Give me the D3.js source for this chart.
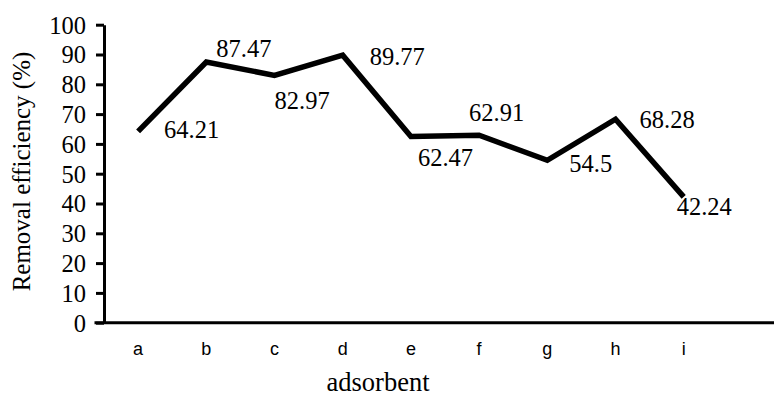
<!DOCTYPE html>
<html><head><meta charset="utf-8">
<script src="https://cdn.jsdelivr.net/npm/d3@7"></script>
<style>
body{margin:0;background:#fff}svg{display:block}
.serif{font-family:"Liberation Serif","Times New Roman",Times,serif;}
.sans{font-family:"Liberation Sans",Arial,Helvetica,sans-serif;}
</style>
</head><body>
<svg id="chart" width="774" height="409"></svg>
<script>
const categories = ["a","b","c","d","e","f","g","h","i"];
const efficiency = [64.21, 87.47, 82.97, 89.77, 62.47, 62.91, 54.5, 68.28, 42.24];
const yTicks = [0,10,20,30,40,50,60,70,80,90,100];
const labelPlacement = ["right","above","below","right","below","above","right","right","center"];

(function () {
const svg = d3.select("#chart");
const W = 774, H = 409;
const mLeft = 104, mTop = 24.7, mBottom = 322.7;
const bandW = 68.2;

const x = d3.scaleBand().domain(categories).range([mLeft, mLeft + categories.length * bandW]).padding(0);
const y = d3.scaleLinear().domain([0, 100]).range([mBottom, mTop]);

// y axis
const yAxis = d3.axisLeft(y).tickValues(yTicks).tickSize(8).tickSizeOuter(0).tickPadding(10);
const gy = svg.append("g").attr("transform", `translate(${mLeft},0)`).call(yAxis)
  .attr("font-family", null).attr("font-size", null);
gy.select(".domain").attr("stroke", "#000").attr("stroke-width", 3);
gy.selectAll(".tick line").attr("stroke", "#000").attr("stroke-width", 3);
gy.selectAll(".tick text").attr("class", "serif")
  .style("font-size", "24.5px").attr("fill", "#000").attr("dy", "0.34em");

// x axis
const xAxis = d3.axisBottom(x).tickSize(0).tickPadding(20);
const gx = svg.append("g").attr("transform", `translate(0,${mBottom})`).call(xAxis)
  .attr("font-family", null).attr("font-size", null);
gx.select(".domain").attr("d", `M${mLeft - 9.5},0H${W + 2}`).attr("stroke", "#000").attr("stroke-width", 3);
gx.selectAll(".tick text").attr("class", "sans")
  .style("font-size", "18px").attr("fill", "#000");

// line
const line = d3.line().x((d, i) => x(categories[i]) + x.bandwidth() / 2).y(d => y(d));
svg.append("path").datum(efficiency).attr("d", line)
  .attr("fill", "none").attr("stroke", "#000").attr("stroke-width", 5.5)
  .attr("stroke-linejoin", "miter").attr("stroke-linecap", "butt");

// data labels
const off = {
  right:  [26, 6.5],
  above:  [10, -5],
  below:  [0, 34],
  center: [-7, 18]
};
const custom = {3: [27, 10], 4: [7, 29.5], 5: [-10, -14], 6: [22, 12], 7: [24, 9]};
svg.append("g").selectAll("text").data(efficiency).join("text")
  .attr("class", "serif")
  .attr("x", (d, i) => x(categories[i]) + x.bandwidth() / 2 + (custom[i] || off[labelPlacement[i]])[0])
  .attr("y", (d, i) => y(d) + (custom[i] || off[labelPlacement[i]])[1])
  .style("font-size", "24.5px").attr("fill", "#000")
  .text(d => d);

// axis titles
svg.append("text").attr("class", "serif").attr("x", 378).attr("y", 391).attr("text-anchor", "middle")
  .style("font-size", "26.5px").text("adsorbent");
svg.append("text").attr("class", "serif")
  .attr("transform", `translate(30,171.5) rotate(-90)`)
  .attr("text-anchor", "middle").style("font-size", "25px")
  .text("Removal efficiency (%)");
})();
</script>
</body></html>
